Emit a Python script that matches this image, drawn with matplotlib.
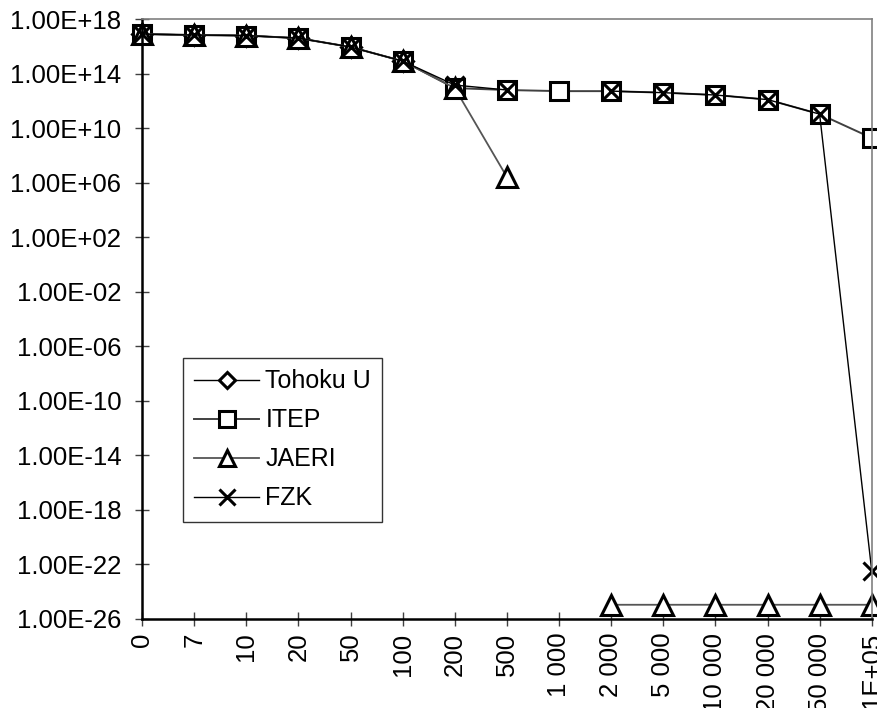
import numpy as np
import matplotlib
matplotlib.use("Agg")
import matplotlib.pyplot as plt
from matplotlib.ticker import FixedLocator, FuncFormatter, NullLocator

plt.rcParams['font.family'] = ['Liberation Sans', 'DejaVu Sans']

# dose steps (category axis) and the four data sets
steps = ['0', '7', '10', '20', '50', '100', '200', '500', '1 000',
         '2 000', '5 000', '10 000', '20 000', '50 000', '1E+05']
nan = np.nan
tohoku = [8.0e16, 6.8e16, 6.2e16, 4.0e16, 9.0e15, 8.3e14, nan, nan, nan,
          nan, nan, nan, nan, nan, nan]
itep = [8.0e16, 6.8e16, 6.2e16, 4.0e16, 9.0e15, 8.3e14, 8.7e12, 6.3e12, 5.2e12,
        5.2e12, 4.0e12, 2.7e12, 1.25e12, 1.07e11, 1.9e9]
jaeri = [8.0e16, 6.8e16, 6.2e16, 4.0e16, 9.0e15, 8.3e14, 8.7e12, 2.6e6, nan,
         1.07e-25, 1.07e-25, 1.07e-25, 1.07e-25, 1.07e-25, 1.07e-25]
fzk = [8.0e16, 6.8e16, 6.2e16, 4.0e16, 9.0e15, 8.3e14, 1.45e13, 6.3e12, nan,
       5.2e12, 4.0e12, 2.7e12, 1.25e12, 1.07e11, 3.3e-23]

x = np.arange(len(steps))

fig = plt.figure(figsize=(8.77, 7.08), dpi=100)
ax = fig.add_axes([0.162, 0.126, 0.832, 0.847])

mk = dict(markersize=13, markeredgewidth=2.2, markeredgecolor='black',
          markerfacecolor='white', clip_on=False)
ax.plot(x, tohoku, color='black', lw=1.0, marker='D', label='Tohoku U',
        **{**mk, 'markersize': 10})
ax.plot(x, itep, color='#404040', lw=1.4, marker='s', label='ITEP', **mk)
ax.plot(x, jaeri, color='#555555', lw=1.3, marker='^', label='JAERI',
        **{**mk, 'markersize': 14})
ax.plot(x, fzk, color='black', lw=1.0, marker='x', label='FZK', **mk)

ax.set_yscale('log')
ax.set_ylim(1e-26, 1e18)
ax.set_xlim(0, len(steps) - 1)

ax.yaxis.set_major_locator(FixedLocator([10.0 ** p for p in range(-26, 19, 4)]))
ax.yaxis.set_minor_locator(NullLocator())
ax.yaxis.set_major_formatter(FuncFormatter(lambda v, pos: f"{v:.2E}"))

ax.set_xticks(x)
ax.set_xticklabels(steps, rotation=90)

ax.tick_params(axis='both', direction='inout', length=10, width=1,
               color='#404040', labelsize=18.5)
ax.tick_params(axis='y', pad=10)
ax.tick_params(axis='x', pad=5)

for side in ('left', 'bottom'):
    ax.spines[side].set_linewidth(1.8)
    ax.spines[side].set_color('black')
for side in ('top', 'right'):
    ax.spines[side].set_linewidth(1.2)
    ax.spines[side].set_color('#808080')

leg = ax.legend(loc='lower left', bbox_to_anchor=(0.056, 0.162), borderaxespad=0,
                fontsize=18, frameon=True, fancybox=False, edgecolor='black',
                handlelength=2.6, handletextpad=0.25, labelspacing=0.6,
                borderpad=0.45, markerscale=0.85)
leg.get_frame().set_linewidth(1.0)

fig.savefig('out.png', dpi=100)
